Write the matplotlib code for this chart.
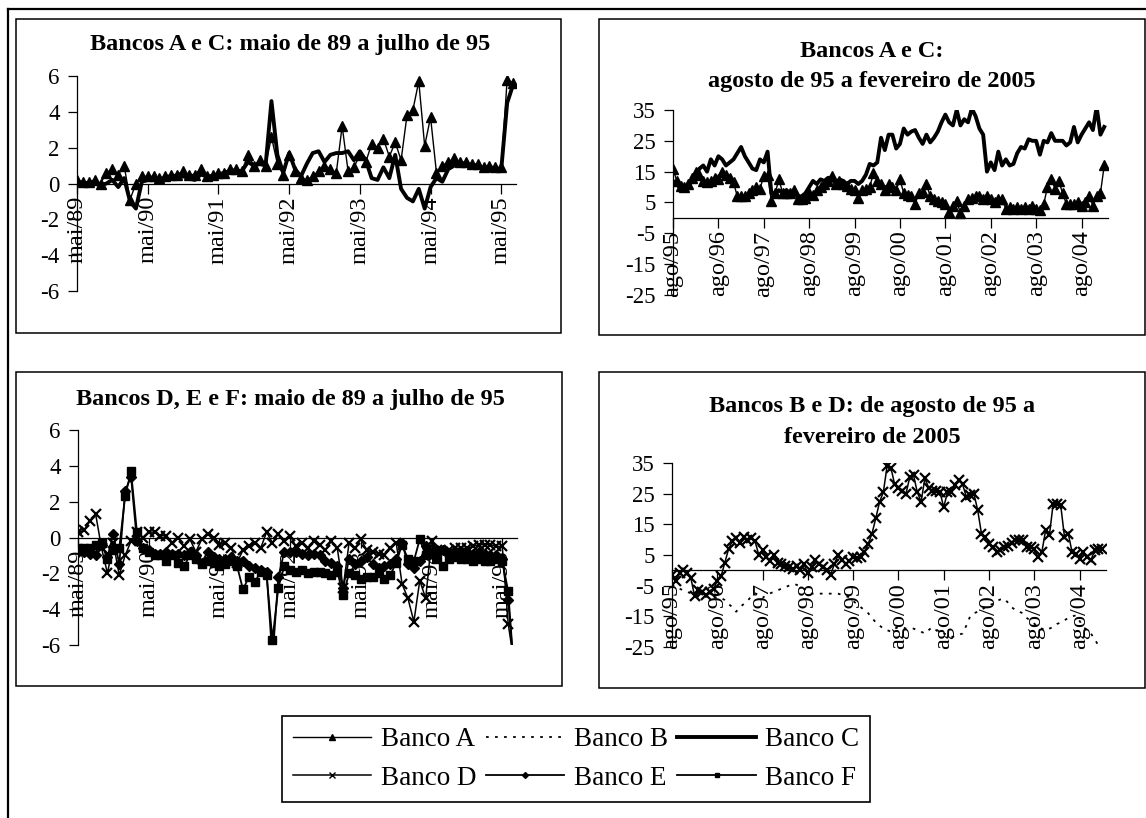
import numpy as np
import matplotlib
matplotlib.use("Agg")
import matplotlib.pyplot as plt
from matplotlib.lines import Line2D
from matplotlib.patches import Rectangle

plt.rcParams["font.family"] = ["Liberation Serif", "DejaVu Serif"]

W, H = 1146, 818

# ---- data: monthly series ----
# mai/89 .. jul/95 (75 months)
mai_ticks = [0, 12, 24, 36, 48, 60, 72]
mai_labels = ["mai/89", "mai/90", "mai/91", "mai/92", "mai/93", "mai/94", "mai/95"]
# ago/95 .. fev/2005 (115 months)
ago_ticks = [0, 12, 24, 36, 48, 60, 72, 84, 96, 108]
ago_labels = ["ago/95", "ago/96", "ago/97", "ago/98", "ago/99",
              "ago/00", "ago/01", "ago/02", "ago/03", "ago/04"]

bancoA_89 = [0.2, 0.1, 0.1, 0.2, 0.0, 0.6, 0.8, 0.5, 1.0, -0.9,
             0.0, 0.4, 0.4, 0.4, 0.3, 0.4, 0.5, 0.5, 0.7, 0.5,
             0.5, 0.8, 0.4, 0.5, 0.6, 0.6, 0.8, 0.8, 0.7, 1.6,
             1.0, 1.3, 1.0, 2.6, 1.1, 0.5, 1.6, 0.7, 0.3, 0.2,
             0.4, 0.7, 1.0, 0.8, 0.6, 3.2, 0.7, 0.9, 1.6, 1.2,
             2.2, 2.0, 2.5, 1.5, 2.3, 1.3, 3.8, 4.1, 5.7, 2.1,
             3.7, 0.6, 1.0, 1.2, 1.4, 1.2, 1.2, 1.1, 1.1, 0.9,
             1.0, 0.9, 0.9, 5.8, 5.6]
bancoC_89 = [0.0, 0.0, 0.0, 0.0, -0.1, 0.0, 0.2, -0.2, 0.3, -1.0,
             -1.4, 0.1, 0.2, 0.2, 0.2, 0.2, 0.3, 0.3, 0.4, 0.3,
             0.2, 0.5, 0.4, 0.4, 0.5, 0.6, 0.7, 0.7, 0.7, 1.2,
             1.0, 1.1, 1.0, 4.6, 1.6, 0.6, 1.7, 0.8, 0.4, 1.1,
             1.7, 1.8, 1.2, 1.6, 1.7, 1.7, 1.8, 1.3, 1.8, 1.3,
             0.3, 0.2, 0.9, 0.3, 1.6, -0.3, -0.8, -1.0, -0.3, -1.4,
             -0.2, 0.3, 0.1, 0.8, 1.0, 1.0, 1.0, 0.9, 0.9, 0.8,
             0.8, 0.8, 0.8, 4.5, 5.5]

bancoA_95 = [16, 12, 10.5, 10, 11, 13, 15, 14, 12, 11.5,
             12, 13, 12.5, 15, 14, 13, 11.5, 7, 7, 7,
             8, 9, 10, 9.5, 13.5, 14, 5.5, 8, 12.5, 8,
             8, 8, 9, 6, 6, 6.5, 8, 7.5, 9, 10,
             11, 12, 13.5, 11, 12, 11, 10.5, 9.5, 9, 6.5,
             9, 9.5, 10, 14.5, 12, 11, 9, 11, 10, 9,
             12.5, 8, 7.5, 7, 4.5, 8, 8.5, 11, 7, 6,
             5.5, 5, 4.5, 2, 4, 5.5, 1.5, 4, 6, 6.5,
             7, 7, 6, 7, 6, 5, 6, 6, 3, 3.5,
             3, 3.5, 3, 3.5, 3, 4, 3, 2.5, 4.5, 10,
             12.5, 9.5, 12, 8, 4.5, 4.5, 4.5, 5, 4, 5,
             7, 4, 7, 8, 17]
bancoC_95 = [12, 11, 9.5, 10, 10, 12, 14, 16, 17, 15,
             19, 17, 20, 19, 17, 18, 19, 21, 23, 20,
             18, 16, 15.5, 19, 18, 21.5, 8, 8, 9, 8,
             9, 8, 8, 7, 7, 8, 10, 12, 11, 12.5,
             12, 13, 13, 11, 12.5, 12, 11, 12, 12, 11,
             12, 14, 17.5, 17, 18, 26, 22, 27, 27, 22.5,
             24, 29, 27, 28, 28.5, 26, 24, 27, 24.5, 26,
             28, 31, 33.5, 31, 30, 35, 30, 32, 31, 35.5,
             33, 29, 27, 15, 18, 15.5, 21.5, 17, 19, 17,
             17.5, 21, 23, 22.5, 25.5, 25, 25, 20.5, 25, 24.5,
             27.5, 25, 25, 25, 23.5, 24.5, 29.5, 24.5, 27, 29,
             31, 28.5, 36, 27, 29.5]

bancoD_89 = [0.3, 0.4, 0.9, 1.3, -0.6, -2.0, -0.3, -2.1, -1.0, -0.2,
             0.3, 0.0, 0.3, 0.3, 0.1, 0.1, -0.3, 0.0, -0.5, -0.1,
             -0.8, -0.1, 0.2, 0.0, -0.4, -0.3, -0.6, -1.4, -0.7, -0.5,
             -0.3, -0.6, 0.3, -0.3, 0.2, -0.2, 0.1, -0.5, -0.3, -0.6,
             -0.2, -0.4, -0.7, -0.2, -0.6, -2.8, -0.3, -0.6, -0.1, -0.7,
             -0.8, -0.9, -1.0, -0.6, -0.3, -2.6, -3.4, -4.7, -2.4, -3.4,
             -0.2, -0.7, -0.8, -0.7, -0.6, -0.6, -0.6, -0.5, -0.4, -0.4,
             -0.4, -0.5, -0.5, -4.8, -7.0]
bancoE_89 = [-0.8, -0.8, -0.9, -1.0, -0.4, -1.1, 0.2, -1.5, 2.6, 3.4,
             -0.2, -0.6, -0.7, -0.9, -0.9, -0.8, -0.9, -0.9, -1.0, -0.8,
             -1.0, -1.4, -0.8, -1.1, -1.2, -1.2, -1.1, -1.3, -1.3, -1.6,
             -1.7, -1.8, -1.9, -6.8, -2.2, -0.8, -0.8, -0.8, -0.9, -1.0,
             -0.9, -1.0, -1.3, -1.4, -1.6, -2.8, -1.2, -1.5, -1.3, -1.1,
             -1.5, -1.7, -1.6, -1.5, -1.2, -0.3, -1.5, -1.7, -1.3, -0.5,
             -0.9, -0.7, -0.7, -1.0, -0.9, -0.8, -0.8, -0.9, -0.8, -0.9,
             -1.0, -1.0, -1.2, -3.5, -7.5]
bancoF_89 = [-0.6, -0.6, -0.6, -0.4, -0.3, -1.2, -0.7, -0.6, 2.3, 3.7,
             0.3, -0.6, -0.8, -1.0, -1.0, -1.3, -1.0, -1.4, -1.6, -1.0,
             -1.2, -1.5, -1.3, -1.4, -1.6, -1.5, -1.3, -1.6, -2.9, -2.2,
             -2.5, -1.9, -2.1, -5.7, -2.8, -1.6, -1.8, -1.9, -1.8, -2.0,
             -1.9, -1.9, -2.0, -2.1, -1.9, -3.2, -2.0, -2.1, -2.3, -2.2,
             -2.2, -2.0, -2.3, -2.1, -1.4, -0.4, -1.2, -1.3, -0.1, -1.0,
             -0.8, -1.2, -1.6, -1.2, -1.1, -1.2, -1.2, -1.3, -1.2, -1.3,
             -1.3, -1.2, -1.3, -3.0, -7.5]

bancoB_95 = [-4.5, -5.5, -6, -6.5, -7, -7.5, -8, -8.5, -8.5, -8.5,
             -8.5, -9, -8.7, -9, -9.7, -11, -12, -13.5, -12, -11,
             -10, -8.5, -7.5, -8, -9, -8, -7.5, -7, -6.5, -6,
             -5.5, -5, -4.5, -4.7, -5.3, -6, -7, -7.6, -7.6, -7.6,
             -7.6, -7.6, -7.6, -7.6, -7.6, -8, -8.5, -8.7, -10, -11,
             -12, -13, -14, -15.5, -17, -18, -19, -19.5, -20, -19,
             -18.5, -18.5, -19, -19, -19, -19.5, -20, -20.6, -19.5, -18.5,
             -19.5, -20.5, -20.6, -21, -21.7, -21.5, -21, -20.6, -18, -15,
             -14, -13.5, -13, -12, -11.5, -10.9, -10, -9.5, -9.2, -10.5,
             -12, -13, -13.5, -14, -15.5, -16.5, -17.4, -18.5, -19, -19.6,
             -19, -18.5, -17.5, -17, -16.3, -15.5, -15, -14.7, -16.5, -18.5,
             -19.5, -20.6, -22.5, -24.5, -25]
bancoD_95 = [-1.5, -3.5, -1.0, 0.0, -1.0, -2.5, -8.5, -6.5, -7.0, -8.0,
             -7.0, -6.0, -3.5, -2.0, 2.5, 7.0, 9.5, 10.5, 9.0, 11.0,
             10.0, 10.5, 9.5, 5.0, 6.5, 4.5, 3.0, 5.0, 2.5, 2.0,
             1.5, 1.0, 0.5, 1.5, 0.0, 2.0, -1.0, 1.0, 3.3, 2.0,
             1.1, 0.0, -1.6, 2.0, 4.9, 3.5, 2.2, 3.0, 4.3, 4.0,
             4.3, 6.0, 8.7, 12.0, 17.0, 22.3, 25.5, 34.0, 33.5, 28.0,
             27.0, 26.0, 25.0, 30.4, 31.0, 25.5, 22.3, 30.0, 27.0, 26.0,
             26.0, 25.5, 20.6, 25.5, 25.5, 27.7, 29.3, 28.0, 24.0, 24.5,
             25.0, 19.6, 12.0, 11.0, 8.7, 7.5, 6.0, 6.5, 7.5, 8.0,
             9.0, 9.8, 9.8, 10.0, 7.6, 7.6, 7.0, 4.3, 6.0, 13.0,
             11.4, 21.7, 21.5, 21.2, 10.9, 12.0, 6.0, 5.4, 3.8, 6.0,
             4.5, 3.3, 6.5, 7.0, 7.0]

# ---- styles per bank ----
sty = {
    "A": dict(color="black", lw=1.0, marker="^", ms=7.5),
    "B": dict(color="black", lw=1.3, ls=(0, (1.5, 3.5))),
    "C": dict(color="black", lw=2.8),
    "D": dict(color="black", lw=1.1, marker="x", ms=7.5, mew=1.6),
    "E": dict(color="black", lw=1.3, marker="D", ms=5),
    "F": dict(color="black", lw=1.3, marker="s", ms=5.5),
}


def px_axes(fig, left, right, top, bottom):
    return fig.add_axes([left / W, 1 - bottom / H, (right - left) / W, (bottom - top) / H])


def style_axes(ax, yticks, xticks, xlabels, xmax):
    ax.set_xlim(0, xmax)
    ax.set_ylim(yticks[0], yticks[-1])
    ax.patch.set_visible(False)
    for s in ("top", "right"):
        ax.spines[s].set_visible(False)
    ax.spines["bottom"].set_position(("data", 0))
    for s in ("left", "bottom"):
        ax.spines[s].set_linewidth(0.9)
    ax.set_yticks(yticks)
    ax.set_yticklabels([str(v) for v in yticks])
    ax.set_xticks(xticks)
    ax.set_xticklabels(xlabels, rotation=90, va="top", ha="center")
    ax.tick_params(axis="y", direction="out", length=6.5, width=0.9, pad=6, labelsize=16.5)
    ax.tick_params(axis="x", direction="out", length=7, width=0.9, pad=2, labelsize=17.5)


def panel_box(fig, x0, y0, x1, y1):
    fig.add_artist(Rectangle((x0 / W, 1 - y1 / H), (x1 - x0) / W, (y1 - y0) / H,
                             transform=fig.transFigure, fill=False, lw=1.1, ec="black"))


def title(fig, x, y, s):
    fig.text(x / W, 1 - y / H, s, ha="center", va="baseline",
             fontsize=17.5, fontweight="bold")


fig = plt.figure(figsize=(W / 100, H / 100), dpi=100)

# outer frame (top and left)
fig.add_artist(Line2D([8 / W, 1], [1 - 9 / H, 1 - 9 / H], transform=fig.transFigure,
                      color="black", lw=1.6))
fig.add_artist(Line2D([8 / W, 8 / W], [0, 1 - 9 / H], transform=fig.transFigure,
                      color="black", lw=1.6))

panel_box(fig, 16, 19, 561, 333)
panel_box(fig, 599, 19, 1145, 335)
panel_box(fig, 16, 372, 562, 686)
panel_box(fig, 599, 372, 1145, 688)

# panel 1
ax1 = px_axes(fig, 77, 516, 76, 291)
x = np.arange(len(bancoA_89))
ax1.plot(x, bancoA_89, zorder=3, **sty["A"])
ax1.plot(x, bancoC_89, zorder=3, **sty["C"])
style_axes(ax1, [-6, -4, -2, 0, 2, 4, 6], mai_ticks, mai_labels, 74.5)
title(fig, 290, 50, "Bancos A e C: maio de 89 a julho de 95")

# panel 2
ax2 = px_axes(fig, 673, 1108, 110, 295)
x = np.arange(len(bancoA_95))
ax2.plot(x, bancoA_95, zorder=3, **sty["A"])
ax2.plot(x, bancoC_95, zorder=3, **sty["C"])
style_axes(ax2, [-25, -15, -5, 5, 15, 25, 35], ago_ticks, ago_labels, 115)
title(fig, 872, 57, "Bancos A e C:")
title(fig, 872, 87, "agosto de 95 a fevereiro de 2005")

# panel 3
ax3 = px_axes(fig, 78, 517, 430, 645)
x = np.arange(len(bancoD_89))
ax3.plot(x, bancoD_89, zorder=3, **sty["D"])
ax3.plot(x, bancoE_89, zorder=3, **sty["E"])
ax3.plot(x, bancoF_89, zorder=3, **sty["F"])
style_axes(ax3, [-6, -4, -2, 0, 2, 4, 6], mai_ticks, mai_labels, 74.5)
title(fig, 290, 405, "Bancos D, E e F: maio de 89 a julho de 95")

# panel 4
ax4 = px_axes(fig, 672, 1106, 463, 647)
x = np.arange(len(bancoD_95))
ax4.plot(x, bancoB_95, zorder=3, **sty["B"])
ax4.plot(x, bancoD_95, zorder=3, **sty["D"])
style_axes(ax4, [-25, -15, -5, 5, 15, 25, 35], ago_ticks, ago_labels, 115)
title(fig, 872, 412, "Bancos B e D: de agosto de 95 a")
title(fig, 872, 443, "fevereiro de 2005")

# legend (proxies with smaller markers), order fills rows A B C / D E F
names = ["A", "D", "B", "E", "C", "F"]
handles = []
for n in names:
    kw = dict(sty[n])
    if "ms" in kw:
        kw["ms"] = kw["ms"] * 0.6
        if "mew" in kw:
            kw["mew"] = 1.0
    handles.append(Line2D([], [], **kw))
leg = fig.legend(handles, ["Banco " + n for n in names], ncol=3,
                 loc="center", bbox_to_anchor=(576 / W, 1 - 759 / H),
                 fontsize=19.5, handlelength=2.9, handletextpad=0.35,
                 columnspacing=0.35, labelspacing=0.5, borderpad=0.4,
                 fancybox=False, framealpha=1, edgecolor="black")
leg.get_frame().set_linewidth(1.2)

fig.savefig("out.png", dpi=100)
